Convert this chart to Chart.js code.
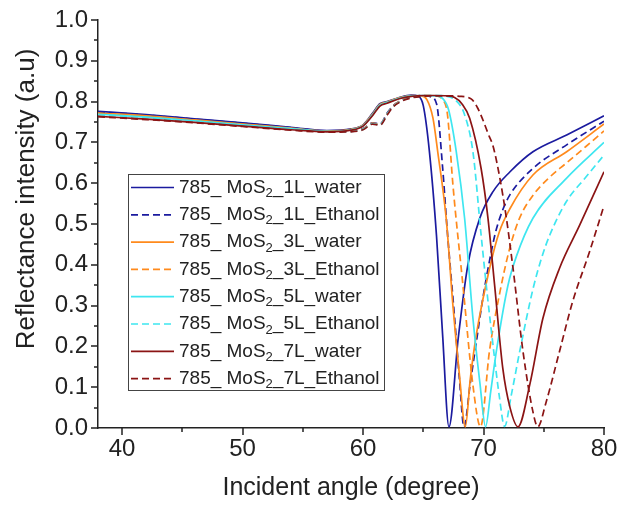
<!DOCTYPE html>
<html>
<head>
<meta charset="utf-8">
<script src="https://cdn.jsdelivr.net/npm/chart.js@4.4.1/dist/chart.umd.min.js"></script>
<style>
  html, body { margin: 0; padding: 0; background: #fff; }
  #wrap { width: 619px; height: 505px; }
</style>
</head>
<body>
<div id="wrap"><canvas id="chart" width="619" height="505"></canvas></div>
<script>
// -------- Datos (ángulo en grados, reflectancia a.u.) --------
const ANG_1L_WATER = [38, 42, 46, 50, 54, 57, 59, 60, 60.8, 61.4, 62, 63, 64, 64.6, 65.0, 65.5, 66.1, 66.6, 67.13, 67.9, 68.7, 69.7, 70.8, 72.2, 74.1, 76.9, 80];
const REF_1L_WATER = [.776, .768, .758, .748, .737, .729, .733, .743, .772, .795, .800, .810, .816, .813, .790, .680, .470, .230, .003, .220, .400, .515, .580, .628, .677, .718, .765];

const ANG_1L_ETH = [38, 42, 46, 50, 54, 57, 59, 60, 60.8, 61.4, 62, 62.5, 63, 64, 65, 65.6, 66.1, 66.6, 67.0, 67.6, 68.0, 68.38, 68.9, 69.4, 69.9, 70.5, 71.0, 71.6, 72.2, 74.1, 76.9, 80];
const REF_1L_ETH = [.775, .767, .757, .747, .736, .728, .729, .734, .748, .745, .772, .790, .800, .812, .815, .812, .795, .640, .480, .270, .120, .003, .110, .210, .310, .410, .480, .535, .572, .636, .694, .752];

const ANG_3L_WATER = [38, 42, 46, 50, 54, 57, 59, 60, 60.8, 61.4, 62, 63, 64, 64.8, 65.3, 65.8, 66.2, 66.9, 67.46, 68.0, 68.49, 68.9, 69.4, 70.5, 71.3, 72.2, 74.1, 76.9, 80];
const REF_3L_WATER = [.772, .765, .755, .745, .735, .728, .732, .742, .770, .793, .799, .809, .815, .814, .805, .760, .677, .514, .300, .130, .003, .120, .228, .391, .480, .538, .620, .677, .745];

const ANG_3L_ETH = [38, 42, 46, 50, 54, 57, 59, 60, 60.8, 61.4, 62, 62.5, 63, 64, 65, 66, 66.6, 67.0, 67.46, 68.29, 69.12, 69.75, 70.5, 71.34, 72.17, 73.0, 74.1, 75.5, 76.9, 78.5, 80];
const REF_3L_ETH = [.771, .764, .754, .744, .734, .727, .728, .733, .747, .744, .770, .789, .800, .811, .815, .814, .805, .770, .596, .350, .105, .003, .190, .330, .440, .515, .570, .615, .650, .690, .728];

const ANG_5L_WATER = [38, 42, 46, 50, 54, 57, 59, 60, 60.8, 61.4, 62, 63, 64, 65, 66, 66.6, 67.1, 67.74, 68.43, 69.12, 69.7, 70.17, 70.6, 71.06, 72.03, 72.72, 74.1, 76.88, 80];
const REF_5L_WATER = [.769, .762, .753, .743, .734, .727, .731, .741, .768, .791, .798, .808, .814, .815, .814, .808, .780, .677, .514, .269, .110, .003, .090, .187, .350, .420, .514, .612, .700];

const ANG_5L_ETH = [38, 42, 46, 50, 54, 57, 59, 60, 60.8, 61.4, 62, 62.5, 63, 64, 65, 66, 67, 67.8, 68.4, 69.12, 69.8, 70.3, 70.8, 71.3, 71.75, 72.3, 73.0, 74.1, 74.8, 75.5, 76.88, 78.5, 80];
const REF_5L_ETH = [.768, .761, .752, .742, .733, .726, .727, .732, .746, .743, .769, .788, .799, .810, .814, .815, .813, .800, .770, .677, .473, .330, .200, .080, .004, .080, .187, .340, .415, .473, .555, .615, .669];

const ANG_7L_WATER = [38, 42, 46, 50, 54, 57, 59, 60, 60.8, 61.4, 62, 63, 64, 65, 66, 67, 67.6, 68.2, 68.85, 69.8, 70.37, 70.92, 71.6, 72.2, 72.86, 73.83, 74.93, 76.3, 77.98, 80];
const REF_7L_WATER = [.764, .757, .749, .740, .731, .726, .730, .740, .766, .789, .796, .807, .813, .815, .815, .814, .810, .795, .759, .636, .514, .350, .146, .050, .003, .105, .269, .391, .497, .628];

const ANG_7L_ETH = [38, 42, 46, 50, 54, 57, 59, 60, 60.8, 61.4, 62, 62.5, 63, 64, 65, 66, 67, 68, 69, 69.5, 69.95, 70.4, 70.8, 71.34, 71.9, 72.45, 73.28, 74.1, 74.5, 75.2, 76.3, 77.4, 78.8, 80];
const REF_7L_ETH = [.763, .756, .748, .739, .730, .725, .726, .731, .745, .742, .767, .787, .798, .809, .813, .814, .814, .813, .806, .785, .755, .720, .690, .615, .514, .391, .187, .040, .003, .064, .187, .310, .432, .545];

const SERIES_LABELS = [
  "785_ MoS₂_1L_water", "785_ MoS₂_1L_Ethanol",
  "785_ MoS₂_3L_water", "785_ MoS₂_3L_Ethanol",
  "785_ MoS₂_5L_water", "785_ MoS₂_5L_Ethanol",
  "785_ MoS₂_7L_water", "785_ MoS₂_7L_Ethanol"
];
// ticks: múltiplos de 10 / 0.1 llevan etiqueta, el resto son menores
const X_TICKS = [40, 45, 50, 55, 60, 65, 70, 75, 80];
const Y_TICKS = [0, 0.05, 0.1, 0.15, 0.2, 0.25, 0.3, 0.35, 0.4, 0.45, 0.5, 0.55, 0.6, 0.65, 0.7, 0.75, 0.8, 0.85, 0.9, 0.95, 1.0];
const X_TITLE = "Incident angle (degree)";
const Y_TITLE = "Reflectance intensity (a.u)";

// -------- Estilos --------
const BLUE = "#1b1b9f", ORANGE = "#ff8a1c", CYAN = "#3ee6f0", DARKRED = "#8b1414";
const AXIS = "#222";
const FONT = "'Liberation Sans', Arial, sans-serif";
const DASH = [7, 4];

const pts = (xs, ys) => xs.map((x, i) => ({ x, y: ys[i] }));

const raw = [
  [ANG_1L_WATER, REF_1L_WATER, BLUE, false],
  [ANG_1L_ETH,   REF_1L_ETH,   BLUE, true],
  [ANG_3L_WATER, REF_3L_WATER, ORANGE, false],
  [ANG_3L_ETH,   REF_3L_ETH,   ORANGE, true],
  [ANG_5L_WATER, REF_5L_WATER, CYAN, false],
  [ANG_5L_ETH,   REF_5L_ETH,   CYAN, true],
  [ANG_7L_WATER, REF_7L_WATER, DARKRED, false],
  [ANG_7L_ETH,   REF_7L_ETH,   DARKRED, true]
];

const datasets = raw.map(([xs, ys, color, dashed], i) => ({
  label: SERIES_LABELS[i],
  data: pts(xs, ys),
  borderColor: color,
  borderWidth: 1.7,
  borderDash: dashed ? DASH : [],
  showLine: true,
  pointRadius: 0,
  cubicInterpolationMode: "monotone",
  order: raw.length - i
}));

// Ticks hacia afuera (mayores con etiqueta, menores más cortos) + título Y
const outerTicks = {
  id: "outerTicks",
  afterDraw(chart) {
    const { ctx } = chart;
    const xs = chart.scales.x, ys = chart.scales.y;
    ctx.save();
    ctx.strokeStyle = AXIS;
    ctx.lineWidth = 1.5;
    ctx.beginPath();
    xs.ticks.forEach(t => {
      const px = Math.round(xs.getPixelForValue(t.value));
      const len = t.label === "" ? 4 : 7;
      ctx.moveTo(px, xs.top); ctx.lineTo(px, xs.top + len);
    });
    ys.ticks.forEach(t => {
      const py = Math.round(ys.getPixelForValue(t.value));
      const len = t.label === "" ? 4 : 7;
      ctx.moveTo(ys.right, py); ctx.lineTo(ys.right - len, py);
    });
    ctx.stroke();

    ctx.fillStyle = AXIS;
    ctx.font = `26px ${FONT}`;
    ctx.textAlign = "center";
    ctx.textBaseline = "middle";
    ctx.translate(27, 199);
    ctx.rotate(-Math.PI / 2);
    ctx.fillText(Y_TITLE, 0, 0);
    ctx.restore();
  }
};

// Leyenda con recuadro dentro del área del gráfico
const boxLegend = {
  id: "boxLegend",
  afterDraw(chart) {
    const { ctx } = chart;
    const left = 128, top = 174, w = 256, h = 216, row = 27.3;
    ctx.save();
    ctx.fillStyle = "#fff";
    ctx.fillRect(left, top, w, h);
    ctx.strokeStyle = "#444";
    ctx.lineWidth = 1;
    ctx.strokeRect(left + 0.5, top + 0.5, w, h);
    chart.data.datasets.forEach((ds, i) => {
      const y = top + 13.5 + i * row;
      ctx.strokeStyle = ds.borderColor;
      ctx.lineWidth = 1.7;
      ctx.setLineDash(ds.borderDash || []);
      ctx.beginPath();
      ctx.moveTo(left + 3, y); ctx.lineTo(left + 46, y);
      ctx.stroke();
      ctx.setLineDash([]);

      const [pre, post] = ds.label.split("₂");
      let x = left + 51;
      ctx.fillStyle = AXIS;
      ctx.textBaseline = "middle";
      ctx.textAlign = "left";
      ctx.font = `19px ${FONT}`;
      ctx.fillText(pre, x, y);
      x += ctx.measureText(pre).width;
      ctx.font = `13px ${FONT}`;
      ctx.fillText("2", x, y + 6);
      x += ctx.measureText("2").width;
      ctx.font = `19px ${FONT}`;
      ctx.fillText(post, x, y);
    });
    ctx.restore();
  }
};

new Chart(document.getElementById("chart").getContext("2d"), {
  type: "scatter",
  data: { datasets },
  options: {
    responsive: false,
    animation: false,
    layout: { padding: { top: 20, right: 15, left: 0, bottom: 0 } },
    plugins: { legend: { display: false }, tooltip: { enabled: false } },
    scales: {
      x: {
        type: "linear",
        min: 38, max: 80,
        afterFit: s => { s.height = 77; s.paddingLeft = 0; s.paddingRight = 0; },
        afterBuildTicks: s => { s.ticks = X_TICKS.map(value => ({ value })); },
        ticks: {
          padding: 7,
          color: AXIS,
          font: { family: FONT, size: 24 },
          maxRotation: 0,
          autoSkip: false,
          callback: v => (v % 10 === 0 ? String(v) : "")
        },
        grid: { display: true, drawOnChartArea: false, drawTicks: false },
        border: { display: true, color: AXIS, width: 1.5 },
        title: {
          display: true,
          text: X_TITLE,
          color: AXIS,
          font: { family: FONT, size: 25 },
          padding: { top: 0, bottom: 2 }
        }
      },
      y: {
        type: "linear",
        min: 0, max: 1.0,
        afterFit: s => { s.width = 98; s.paddingTop = 0; s.paddingBottom = 0; },
        afterBuildTicks: s => { s.ticks = Y_TICKS.map(value => ({ value })); },
        ticks: {
          padding: 10,
          color: AXIS,
          font: { family: FONT, size: 24 },
          autoSkip: false,
          callback: v => (Math.round(v * 100) % 10 === 0 ? v.toFixed(1) : "")
        },
        grid: { display: true, drawOnChartArea: false, drawTicks: false },
        border: { display: true, color: AXIS, width: 1.5 }
      }
    }
  },
  plugins: [outerTicks, boxLegend]
});
</script>
</body>
</html>
